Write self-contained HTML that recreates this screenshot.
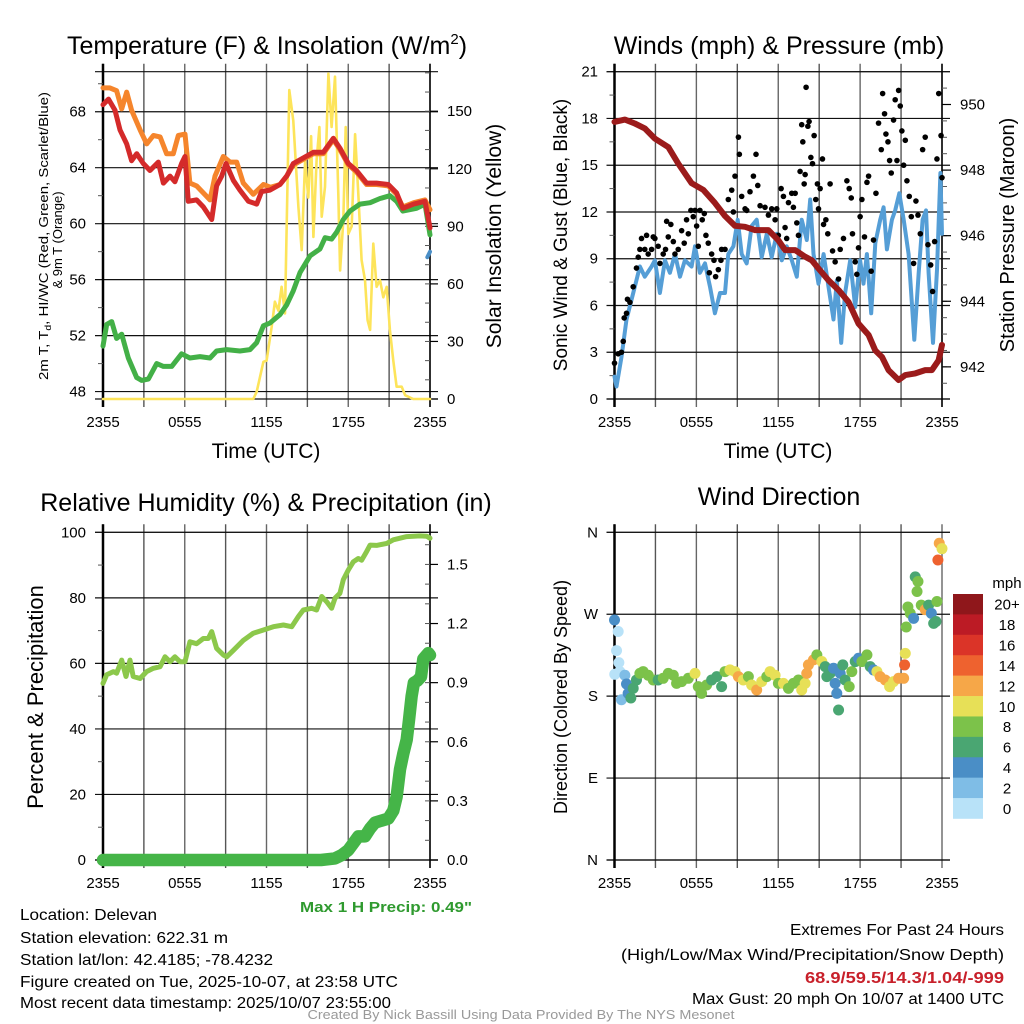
<!DOCTYPE html>
<html><head><meta charset="utf-8"><style>
html,body{margin:0;padding:0;background:#fff;}
svg{display:block;font-family:"Liberation Sans",sans-serif;}
</style></head><body>
<svg id="fig" xmlns="http://www.w3.org/2000/svg" width="1024" height="1024" viewBox="0 0 1024 1024">
<rect width="1024" height="1024" fill="#fff"/>
<text x="267" y="54" font-size="25" text-anchor="middle">Temperature (F) &amp; Insolation (W/m<tspan font-size="15" dy="-10">2</tspan><tspan dy="10">)</tspan></text>
<text x="779" y="54" font-size="25" text-anchor="middle">Winds (mph) &amp; Pressure (mb)</text>
<text x="266" y="511" font-size="25" text-anchor="middle">Relative Humidity (%) &amp; Precipitation (in)</text>
<text x="779" y="505" font-size="25" text-anchor="middle">Wind Direction</text>
<text x="266" y="458" font-size="21" text-anchor="middle">Time (UTC)</text>
<text x="778" y="458" font-size="21" text-anchor="middle">Time (UTC)</text>
<text transform="translate(48,236) rotate(-90)" font-size="13" text-anchor="middle" textLength="288" lengthAdjust="spacingAndGlyphs">2m T, T<tspan font-size="9" dy="3">d</tspan><tspan dy="-3">, HI/WC (Red, Green, Scarlet/Blue)</tspan></text>
<text transform="translate(62,240) rotate(-90)" font-size="13" text-anchor="middle">&amp; 9m T (Orange)</text>
<text transform="translate(501,236) rotate(-90)" font-size="21" text-anchor="middle">Solar Insolation (Yellow)</text>
<text transform="translate(567,235) rotate(-90)" font-size="19" text-anchor="middle">Sonic Wind &amp; Gust (Blue, Black)</text>
<text transform="translate(1014,235) rotate(-90)" font-size="20" text-anchor="middle">Station Pressure (Maroon)</text>
<text transform="translate(43,697) rotate(-90)" font-size="22" text-anchor="middle">Percent &amp; Precipitation</text>
<text transform="translate(567,697) rotate(-90)" font-size="18" text-anchor="middle">Direction (Colored By Speed)</text>
<text x="386" y="912" font-size="15" font-weight="bold" fill="#2f9a2f" text-anchor="middle" textLength="172" lengthAdjust="spacingAndGlyphs">Max 1 H Precip: 0.49"</text>
<g font-size="16">
<text x="20" y="920" textLength="137" lengthAdjust="spacingAndGlyphs">Location: Delevan</text>
<text x="20" y="943" textLength="208" lengthAdjust="spacingAndGlyphs">Station elevation: 622.31 m</text>
<text x="20" y="965" textLength="253" lengthAdjust="spacingAndGlyphs">Station lat/lon: 42.4185; -78.4232</text>
<text x="20" y="987" textLength="378" lengthAdjust="spacingAndGlyphs">Figure created on Tue, 2025-10-07, at 23:58 UTC</text>
<text x="20" y="1008" textLength="371" lengthAdjust="spacingAndGlyphs">Most recent data timestamp: 2025/10/07 23:55:00</text>
</g>
<g font-size="16" text-anchor="end">
<text x="1004" y="935" textLength="214" lengthAdjust="spacingAndGlyphs">Extremes For Past 24 Hours</text>
<text x="1004" y="960" textLength="383" lengthAdjust="spacingAndGlyphs">(High/Low/Max Wind/Precipitation/Snow Depth)</text>
<text x="1004" y="983" font-weight="bold" fill="#c8202a" textLength="199" lengthAdjust="spacingAndGlyphs">68.9/59.5/14.3/1.04/-999</text>
<text x="1004" y="1004" textLength="312" lengthAdjust="spacingAndGlyphs">Max Gust: 20 mph On 10/07 at 1400 UTC</text>
</g>
<text x="521" y="1019" font-size="13" fill="#999" text-anchor="middle" textLength="427" lengthAdjust="spacingAndGlyphs">Created By Nick Bassill Using Data Provided By The NYS Mesonet</text>
</svg>
<script>
// ---------- DATA ----------
const xTickLabels = ["2355","0555","1155","1755","2355"];
const tempTicks = [48,52,56,60,64,68];
const insolTicks = [0,30,60,90,120,150];
const windTicks = [0,3,6,9,12,15,18,21];
const presTicks = [942,944,946,948,950];
const rhTicks = [0,20,40,60,80,100];
const precipTicks = [0,0.3,0.6,0.9,1.2,1.5];
const precipTickLabels = ["0.0","0.3","0.6","0.9","1.2","1.5"];
const dirTicks = [0,90,180,270,360];
const dirTickLabels = ["N","E","S","W","N"];
const speedBins = ["0","2","4","6","8","10","12","14","16","18","20+"];
const speedColors = ["#b8e2f8","#7fbde6","#4a8ec6","#4aa672","#7cc24a","#e7e057","#f6a748","#ee622f","#db3428","#bc1b25","#8f171b"];

const tHours = [0,.4,.88,1.25,1.74,2.1,2.47,2.96,3.45,4.06,4.43,4.92,5.28,5.77,6.02,6.26,6.87,7.36,7.98,8.34,8.71,9.03,9.56,10.05,10.67,11.28,11.64,12.26,12.99,13.48,13.97,14.7,15.44,16.17,16.9,17.39,18.0,18.6,19.35,20.08,20.94,21.55,22.0,22.8,23.63,24];
const tempVals = [68.5,68.9,68.1,66.7,65.7,64.5,65,64.3,63.8,64.4,62.9,63.4,63,64.3,64.8,61.6,61.7,61.2,60.3,62.7,63.4,64.3,63.1,62.4,61.6,61.4,62.3,62.4,62.8,63.4,64.3,64.7,65.1,65.1,66.1,65.4,64.3,63.8,62.9,62.9,62.8,62.2,61.1,61.4,61.6,59.7];
const t9Hours = [0,.51,1.0,1.37,1.74,2.1,2.72,3.21,3.7,4.19,4.67,5.16,5.53,6.02,6.38,6.87,7.36,7.85,8.22,8.83,9.32,9.81,10.3,11.03,11.77,12.3,12.99,13.48,13.97,14.7,15.44,16.17,16.9,17.39,18.0,18.6,19.35,20.08,20.94,21.55,22.0,22.8,23.63,24];
const temp9Vals = [69.7,69.7,69.5,68.2,69.4,68.1,66.7,65.7,66.3,66.2,65,65,66.3,66.4,62.9,62.7,62.2,61.7,63.4,64.8,64.4,64.4,62.9,62.1,62.8,62.6,62.8,63.4,64.2,64.6,65.0,65.0,66.0,65.3,64.2,63.7,62.8,62.8,62.7,62.1,61.2,61.5,61.7,61.0];
const tdHours = [0,.27,.64,1.0,1.37,1.86,2.47,2.84,3.33,3.94,4.43,5.04,5.77,6.38,7.12,7.85,8.34,9.07,10.05,10.79,11.28,11.77,12.26,12.99,13.48,13.97,14.46,15.2,15.93,16.3,16.78,17.15,17.64,18.13,18.86,19.6,20.33,21.06,21.55,22.0,23.02,23.63,24];
const dewVals = [51.25,52.8,53,51.8,52.1,50.4,49,48.8,48.9,50,49.8,49.8,50.7,50.4,50.5,50.4,50.9,51,50.9,51,51.5,52.7,52.9,53.5,54.2,55.2,56.5,57.7,58.2,59,58.9,59.4,60.3,60.9,61.4,61.5,61.8,62,61.6,60.9,61.1,61.4,59.2];
const wcHours = [23.8,24];
const wcVals = [57.6,58.0];
const solHours = [0,11.03,11.28,11.77,12.01,12.38,12.62,12.87,13.11,13.36,13.67,13.97,14.34,14.58,14.83,15.07,15.27,15.44,15.68,15.88,16.05,16.29,16.54,16.78,17.03,17.27,17.4,17.64,17.81,18.0,18.25,18.5,18.74,18.98,19.23,19.42,19.6,19.84,20.08,20.33,20.57,20.82,21.06,21.31,21.55,21.92,22.17,22.77,24];
const solVals = [0,0,3.8,19.4,20,37.7,50.7,46,58.5,44.6,161,145,100,77.6,124,105,137,84.5,124.5,141.8,95,110.6,169.6,141.8,168,107,67,93,141.8,86,90,138,107,72.4,62,41,36,81,58.5,62,53,58.5,36,20,6.4,6.4,2,0,0];

const presHours = [0,.76,1.49,2.22,2.96,3.94,4.67,5.65,6.5,7.36,8.1,8.83,9.56,10.3,11.28,12.01,12.5,13.24,13.97,14.46,14.95,15.68,16.42,17.15,17.88,18.62,19.11,19.6,20.08,20.82,21.31,22.04,22.77,23.26,23.75,24];
const presVals = [949.47,949.54,949.42,949.27,948.96,948.7,948.2,947.6,947.4,947,946.6,946.3,946.27,946.17,946.17,945.86,945.56,945.56,945.36,945.25,945,944.64,944.34,943.98,943.32,942.97,942.5,942.3,941.9,941.6,941.75,941.8,941.9,941.9,942.2,942.67];
const windHours = [0,.15,.51,.88,1.49,1.86,2.22,2.72,2.96,3.33,3.7,4.06,4.43,4.8,5.16,5.65,5.9,6.26,6.63,7.0,7.36,7.73,8.1,8.34,8.71,9.03,9.32,9.69,10.05,10.42,10.79,11.16,11.52,11.89,12.26,12.62,12.99,13.36,13.72,14.09,14.34,14.58,14.95,15.32,15.68,16.05,16.29,16.61,16.9,17.27,17.64,18.0,18.25,18.5,18.81,19.11,19.47,19.72,19.96,20.33,20.57,20.87,21.19,21.55,21.97,22.29,22.58,22.83,23.02,23.34,23.63,23.88,24];
const windVals = [1.43,.8,2.7,5.1,7.2,8.5,7.85,8.5,8.9,6.8,8.9,8.1,9.3,7.85,8.9,8.5,9.8,8.1,8.7,7.2,5.5,6.8,6.8,9.3,9.8,11.5,9.3,8.7,11.1,11.5,9.1,10.6,9.1,10.6,8.9,9.8,8.9,7.85,11.5,10.2,12.8,9.3,7.4,9.3,7.2,5.1,7.6,3.6,6.8,8.9,5.9,8.9,7.4,9.3,5.5,10,11.5,12.3,9.6,11.5,12.1,13.2,11.5,9.3,3.8,8.1,11.5,12.1,8.1,3.6,8.3,14.5,10.6];
const gustHours = [0,.27,.51,.64,.71,.88,.95,1.13,1.37,1.61,1.74,1.86,1.98,2.22,2.35,2.47,2.72,2.84,2.96,3.2,3.33,3.57,3.74,3.82,3.94,4.13,4.31,4.43,4.67,4.92,5.11,5.28,5.41,5.6,5.77,5.9,6.02,6.14,6.26,6.43,6.58,6.7,6.87,6.95,7.12,7.29,7.41,7.61,7.8,7.85,8.1,8.34,8.59,8.71,8.83,9.08,9.15,9.32,9.57,9.69,9.93,10.18,10.37,10.5,10.67,11.03,11.28,11.52,11.77,11.89,12.01,12.21,12.38,12.5,12.62,12.75,12.99,13.11,13.24,13.36,13.48,13.6,13.72,13.8,13.9,13.97,14.04,14.17,14.26,14.39,14.51,14.63,14.75,14.87,14.95,15.07,15.24,15.32,15.49,15.63,15.8,15.98,16.17,16.42,16.54,16.78,17.03,17.2,17.35,17.44,17.64,17.76,17.88,18.0,18.13,18.32,18.5,18.62,18.81,18.98,19.16,19.35,19.55,19.65,19.79,19.89,20.04,20.16,20.28,20.45,20.57,20.7,20.82,20.94,21.06,21.19,21.31,21.43,21.6,21.75,21.92,22.09,22.24,22.41,22.58,22.77,22.97,23.17,23.31,23.46,23.63,23.76,23.93,24];
const gustVals = [2.3,2.9,3.0,3.7,5.2,5.5,6.4,6.2,7.2,8.4,9.1,9.6,10.3,9.6,10.5,9.3,9.6,10.4,10.3,9.8,8.7,9.3,9.6,11.4,10.4,11.2,10.1,9.3,9.6,10.8,10,11.5,10.6,12.1,11.7,12.1,11.1,9.8,12.1,11.5,11.9,10.5,10,8.1,9.3,8.9,7.85,8.3,8.9,9.6,9.6,12.8,13.4,12,14.3,16.8,15.7,13,12.2,12.1,13.3,14.3,15.7,13.7,12.4,12.3,11.8,12.2,11.5,12.2,10.5,13.5,13,11,10.3,12.6,13.2,12.3,13.2,11.3,10.5,14.6,17.6,16.5,13.8,14.4,20.0,17.5,17.8,15.5,15.1,16.9,12.8,13.8,12.2,13.5,15.4,11.2,11.5,10.6,13.8,9.5,8.8,7.7,9.6,10.3,14.0,13.5,12.9,10.6,8.8,8,9.7,11.7,12.8,10.4,13.9,14.3,8.2,10.2,13.2,17.7,16,19.6,18.3,17.0,16.5,15.3,14.5,17.9,19.2,15.3,19.8,18.8,17.2,15,16.6,14,13,11.7,8.7,12.7,11.8,10.6,16,16.8,9.9,8.6,6.9,10.1,15.4,19.6,16.9,14.2];

const rhHours = [0,.27,.76,1.0,1.37,1.69,1.98,2.22,2.72,3.2,3.7,4.19,4.55,4.92,5.28,5.65,6.02,6.38,6.87,7.36,7.73,7.98,8.34,8.83,9.08,9.57,10.3,11.03,11.77,12.5,13.24,13.85,14.34,14.7,15.32,15.68,16.05,16.42,16.78,17.03,17.39,17.64,18.0,18.37,18.74,18.98,19.35,19.6,20.08,20.82,21.31,21.8,22.29,23.26,23.76,24];
const rhVals = [53.9,56.5,57.5,57,61,56,61,56,55.4,57.5,58.5,59,62,60.5,62,60.5,60.5,66.6,66,67.6,67.6,69.7,64.6,62.6,62,64,67,69.2,70.2,71.2,71.7,71.2,74.3,76.3,76.8,76.3,80.4,78.8,76.8,79.9,81.4,85.5,88.5,91,92,91.5,94.1,96.1,96,96.6,97.7,98.2,98.7,98.9,98.8,98.2];
const precipHours = [0,16,17.03,17.52,18.0,18.37,18.74,19.23,19.6,19.96,20.45,20.94,21.31,21.55,21.8,22.04,22.29,22.46,22.65,22.82,23.07,23.34,23.51,23.88,24];
const precipVals = [0,0,.008,.025,.05,.085,.12,.12,.16,.19,.2,.21,.25,.32,.46,.54,.61,.71,.83,.9,.91,.93,1.02,1.05,1.04];

const dirHours = [0,.27,.15,.32,.02,.39,.51,.76,.88,1.0,1.2,1.37,1.61,1.86,2.1,2.47,2.84,3.2,3.57,3.94,4.31,4.55,4.92,5.41,5.9,6.14,6.38,6.75,7.12,7.49,7.85,8.1,8.46,8.83,9.08,9.44,9.81,10.05,10.42,10.79,11.16,11.4,11.77,12.01,12.38,12.75,13.11,13.48,13.72,13.97,14.09,14.21,14.58,14.83,15.19,15.44,15.56,15.8,16.05,16.17,16.29,16.42,16.54,16.73,16.9,17.2,17.39,17.64,17.88,18.13,18.5,18.74,18.98,19.23,19.47,19.84,20.16,20.45,20.82,21.19,21.26,21.31,21.38,21.5,21.67,21.92,22.04,22.24,22.17,22.48,22.77,23.02,23.22,23.39,23.56,23.63,23.7,23.8,24];
const dirVals = [263.7,251,230,216.8,204,207,176,203,193.4,183,178,188.6,197.8,205,207,203,197.8,197.8,199.6,205,203,194,196,199.6,205,190.5,183,192.3,197.8,201.5,190.5,207,208.8,207,201.5,197.8,201.5,192.3,186.8,196,201.5,207,203,194,194,188.6,194,197.8,186.8,194,205,214.3,219.8,225.3,218,212.4,201.5,205,210.6,194,183,164.8,205,214.3,197.8,190.5,207,218,221.6,218,225.3,212.4,208.8,207,201.5,197.8,190.5,196,199.6,199.6,214.3,227,256,278,271,265.5,311,306,295,280,275,280,271,260,262,284,329.6,348,342];
const dirSpeeds = [4,1,1,1,1,1,2,3,4,4,6,6,7,8,8,8,8,6,8,8,8,8,8,8,10,8,8,8,6,6,6,8,10,10,12,10,8,10,12,10,8,10,10,8,10,8,8,8,10,10,12,12,12,8,10,6,6,6,4,4,4,6,4,6,6,8,8,6,4,8,8,6,4,10,12,12,10,10,12,12,14,10,8,8,8,4,6,8,8,8,12,6,4,6,6,8,15,12,10];

// ---------- DRAWING ----------
const NS = "http://www.w3.org/2000/svg";
const svg = document.getElementById('fig');
function mk(tag, attrs, parent){
  const e = document.createElementNS(NS, tag);
  for (const k in attrs) e.setAttribute(k, attrs[k]);
  (parent || svg).appendChild(e);
  return e;
}
function lin(d0,d1,r0,r1){ return v => r0 + (v-d0)/(d1-d0)*(r1-r0); }
function pathD(xs, ys, fx, fy){
  let d = "";
  for (let i=0;i<xs.length;i++) d += (i?"L":"M") + fx(xs[i]).toFixed(1) + "," + fy(ys[i]).toFixed(1);
  return d;
}

function frame(name, x0, x1, y0, y1, gridYs, rightAxis){
  const g = mk('g', {});
  
  
  for (let i=0;i<=8;i++){
    const x = x0 + i*(x1-x0)/8;
    const v = mk('line', {x1:x, x2:x, y1:y0-8, y2:y1+8, stroke: (i%2? "#555":"#666"), 'stroke-width':1.4}, g);
    
    
  }
  const lines = gridYs.concat([y0, y1]);
  lines.forEach(y => {
    const h = mk('line', {x1:x0-8, x2:x1 + 8, y1:y, y2:y, stroke:"#111", 'stroke-width':1.2}, g);
    
    
  });
  const la = mk('line', {x1:x0, x2:x0, y1:y0-8, y2:y1+8, stroke:"#000", 'stroke-width':2.5}, g);
  
  
  if (rightAxis){
    const ra = mk('line', {x1:x1, x2:x1, y1:y0-8, y2:y1+8, stroke:"#000", 'stroke-width':1.5}, g);
    
    
  }
  for (let i=0;i<xTickLabels.length;i++){
    const x = x0 + i*(x1-x0)/4;
    const t = mk('text', {x:x, y:y1+28, 'font-size':15, 'text-anchor':'middle'}, g);
    t.textContent = xTickLabels[i];
    
    
  }
  return g;
}
function yLabels(name, g, vals, labels, fy, x, anchor){
  vals.forEach((v,i) => {
    const t = mk('text', {x:x, y:fy(v)+5, 'font-size':15, 'text-anchor':anchor}, g);
    t.textContent = labels ? labels[i] : String(v);
    
    
  });
}
function minorTicks(g, fy, from, to, step, x, dx){
  for (let v=from; v<=to+1e-9; v+=step){
    mk('line', {x1:x, x2:x+dx, y1:fy(v), y2:fy(v), stroke:"#555", 'stroke-width':1}, g);
  }
}
function series(name, d, color, w, parent){
  const p = mk('path', {d:d, fill:'none', stroke:color, 'stroke-width':w, 'stroke-linejoin':'round', 'stroke-linecap':'round'}, parent);
  
  
  return p;
}

// Panel 1
{
  const x0=103, x1=430, y0=71.7, y1=399;
  const fx = lin(0,24,x0,x1), fy = lin(47.47,70.86,y1,y0), fr = lin(0,170.6,y1,y0);
  const g = frame('temp', x0,x1,y0,y1, tempTicks.map(fy), true);
  yLabels('temp-left', g, tempTicks, null, fy, 86, 'end');
  yLabels('insol-right', g, insolTicks, null, fr, 447, 'start');
  minorTicks(g, fy, 50, 70, 4, x0, -5);
  minorTicks(g, fr, 10, 170, 10, x1, -5);
  insolTicks.forEach(v => mk('line', {x1:x1, x2:x1+8, y1:fr(v), y2:fr(v), stroke:"#000", 'stroke-width':1.2}, g));
  series('insolation-line', pathD(solHours, solVals, fx, fr), '#fde45a', 2.6);
  series('dewpoint-line', pathD(tdHours, dewVals, fx, fy), '#43b047', 5);
  series('temp9m-line', pathD(t9Hours, temp9Vals, fx, fy), '#f5852c', 5);
  series('temp2m-line', pathD(tHours, tempVals, fx, fy), '#d42a2a', 5);
  series('windchill-line', pathD(wcHours, wcVals, fx, fy), '#4a8ec6', 4);
}
// Panel 2
{
  const x0=614.5, x1=942, y0=71.7, y1=399;
  const fx = lin(0,24,x0,x1), fy = lin(0,21,y1,y0), fp = lin(941.02,951.0,y1,y0);
  const g = frame('wind', x0,x1,y0,y1, windTicks.map(fy), true);
  yLabels('wind-left', g, windTicks, null, fy, 598, 'end');
  yLabels('pressure-right', g, presTicks, null, fp, 960, 'start');
  minorTicks(g, fy, 1.5, 19.5, 3, x0, -5);
  minorTicks(g, fp, 941.5, 950.5, 0.5, x1, 5);
  presTicks.forEach(v => mk('line', {x1:x1, x2:x1+9, y1:fp(v), y2:fp(v), stroke:"#000", 'stroke-width':1.2}, g));
  series('wind-speed-line', pathD(windHours, windVals, fx, fy), '#559ed6', 4);
  const gg = mk('g', {});
  
  
  for (let i=0;i<gustHours.length;i++){
    const c = mk('circle', {cx:fx(gustHours[i]), cy:fy(gustVals[i]), r:2.8, fill:'#000'}, gg);
    
    
  }
  series('pressure-line', pathD(presHours, presVals, fx, fp), '#9b1b1b', 6);
}
// Panel 3
{
  const x0=103, x1=430, y0=532.3, y1=860;
  const fx = lin(0,24,x0,x1), fy = lin(0,100,y1,y0), fr = lin(0,1.663,y1,y0);
  const g = frame('rh', x0,x1,y0,y1, rhTicks.map(fy), true);
  yLabels('rh-left', g, rhTicks, null, fy, 86, 'end');
  yLabels('precip-right', g, precipTicks, precipTickLabels, fr, 447, 'start');
  minorTicks(g, fy, 10, 90, 20, x0, -5);
  minorTicks(g, fr, 0.1, 1.6, 0.1, x1, -5);
  precipTicks.forEach(v => mk('line', {x1:x1, x2:x1+8, y1:fr(v), y2:fr(v), stroke:"#000", 'stroke-width':1.2}, g));
  series('rh-line', pathD(rhHours, rhVals, fx, fy), '#8cc84b', 5);
  series('precip-line', pathD(precipHours, precipVals, fx, fr), '#45b548', 12.5);
}
// Panel 4
{
  const x0=614.5, x1=942, y0=532.3, y1=860;
  const fx = lin(0,24,x0,x1), fy = lin(0,360,y1,y0);
  const g = frame('dir', x0,x1,y0,y1, dirTicks.map(fy), false);
  yLabels('dir-left', g, dirTicks, dirTickLabels, fy, 598, 'end');
  const dg = mk('g', {});
  
  
  for (let i=0;i<dirHours.length;i++){
    const b = Math.min(10, Math.floor(dirSpeeds[i]/2));
    const c = mk('circle', {cx:fx(dirHours[i]), cy:fy(dirVals[i]), r:5.5, fill:speedColors[b]}, dg);
    
    
  }
  const lg = mk('g', {});
  
  
  const by0 = 594, by1 = 818.5, bh = (by1-by0)/speedBins.length;
  const mt = mk('text', {x:1007, y:588, 'font-size':15, 'text-anchor':'middle'}, lg);
  mt.textContent = 'mph';
  
  
  for (let i=0;i<speedBins.length;i++){
    const k = speedBins.length-1-i;
    const r = mk('rect', {x:953, y:by0+i*bh, width:30, height:bh+0.3, fill:speedColors[k]}, lg);
    
    
    const t = mk('text', {x:1007, y:by0+i*bh+bh/2+5.5, 'font-size':15, 'text-anchor':'middle'}, lg);
    t.textContent = speedBins[k];
    
    
  }
}
</script>
</body></html>
